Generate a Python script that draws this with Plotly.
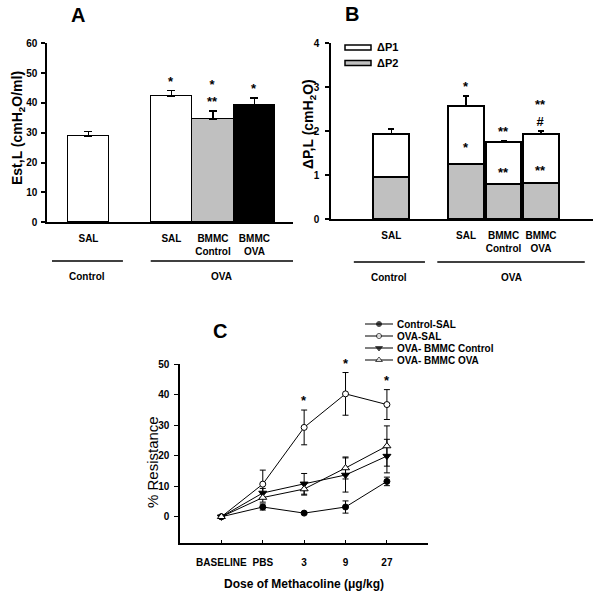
import plotly.graph_objects as go

W, H = 600, 595
FONT = "Liberation Sans, Arial, sans-serif"

# ---------------- Panel A data ----------------
a_x = [1, 3, 4, 5]
a_ticktext = ["SAL", "SAL", "BMMC<br>Control", "BMMC<br>OVA"]
a_est = [28.7, 42.4, 34.5, 39.3]
a_err = [1.7, 1.7, 2.8, 2.3]
a_fill = ["white", "white", "#c0c0c0", "black"]
a_sig = ["", "*", "*<br>**", "*"]
a_groups = ["Control", "OVA"]
a_group_span = [(0.12, 1.83), (2.5, 5.93)]

# ---------------- Panel B data ----------------
b_x = [1, 3, 4, 5]
b_ticktext = ["SAL", "SAL", "BMMC<br>Control", "BMMC<br>OVA"]
b_dp2 = [0.94, 1.25, 0.80, 0.82]
b_dp2_err = [0.12, 0.17, 0.035, 0.07]
b_dp1 = [0.99, 1.31, 0.94, 1.11]
b_dp1_err = [0.12, 0.24, 0.04, 0.07]
b_sig_dp1 = ["", "*", "**", "**<br>#"]
b_sig_dp2 = ["", "*", "**", "**"]
b_groups = ["Control", "OVA"]
b_group_span = [(0.0, 1.9), (2.23, 6.17)]
b_legend = ["\u0394P1", "\u0394P2"]
b_legend_fill = ["white", "#c0c0c0"]

# ---------------- Panel C data ----------------
c_doses = ["BASELINE", "PBS", "3", "9", "27"]
c_names = ["Control-SAL", "OVA-SAL", "OVA- BMMC Control", "OVA- BMMC OVA"]
c_ctrl_sal = [0, 3.2, 1.2, 3.2, 11.6]
c_ctrl_sal_err = [0, 1.0, 0.4, 2.0, 1.4]
c_ova_sal = [0, 10.7, 29.3, 40.3, 36.8]
c_ova_sal_err = [0, 4.6, 5.7, 7.0, 4.9]
c_ova_bmmc_ctrl = [0, 7.8, 10.8, 13.7, 19.9]
c_ova_bmmc_ctrl_err = [0, 1.5, 3.4, 5.6, 5.5]
c_ova_bmmc_ova = [0, 6.3, 9.1, 16.0, 23.2]
c_ova_bmmc_ova_err = [0, 1.5, 2.0, 3.6, 6.6]
c_sig = ["", "", "*", "*", "*"]


def px(x):
    return x / W


def py(y):
    return 1 - y / H


fig = go.Figure()

# ---- Panel A bars
fig.add_trace(go.Bar(
    x=a_x, y=a_est, width=1,
    marker=dict(color=a_fill, line=dict(color="black", width=1.5)),
    error_y=dict(type="data", array=a_err, arrayminus=[0] * len(a_err), symmetric=False,
                 color="black", thickness=1.5, width=4),
    xaxis="x", yaxis="y", showlegend=False))

# ---- Panel B stacked bars
fig.add_trace(go.Bar(
    x=b_x, y=b_dp2, width=0.95, name=b_legend[1],
    marker=dict(color="#c0c0c0", line=dict(color="black", width=2)),
    error_y=dict(type="data", array=b_dp2_err, arrayminus=[0] * 4, symmetric=False,
                 color="black", thickness=1.5, width=3),
    xaxis="x2", yaxis="y2", showlegend=False))
fig.add_trace(go.Bar(
    x=b_x, y=b_dp1, width=0.95, name=b_legend[0],
    marker=dict(color="white", line=dict(color="black", width=2)),
    error_y=dict(type="data", array=b_dp1_err, arrayminus=[0] * 4, symmetric=False,
                 color="black", thickness=1.5, width=3),
    xaxis="x2", yaxis="y2", showlegend=False))

# ---- Panel C lines
c_vals = [c_ctrl_sal, c_ova_sal, c_ova_bmmc_ctrl, c_ova_bmmc_ova]
c_errs = [c_ctrl_sal_err, c_ova_sal_err, c_ova_bmmc_ctrl_err, c_ova_bmmc_ova_err]
c_sym = ["circle", "circle", "triangle-down", "triangle-up"]
c_mfill = ["black", "white", "black", "white"]
c_msize = [6, 6, 7, 7]
xi = list(range(len(c_doses)))
for vals, errs, sym, mf, ms in zip(c_vals, c_errs, c_sym, c_mfill, c_msize):
    fig.add_trace(go.Scatter(
        x=xi, y=vals, mode="lines+markers",
        line=dict(color="black", width=1),
        marker=dict(symbol=sym, color=mf, size=ms, line=dict(color="black", width=1)),
        error_y=dict(type="data", array=errs, color="black", thickness=1, width=3),
        xaxis="x3", yaxis="y3", showlegend=False))

# ---- Panel C custom legend (helper axes)
for i, (sym, mf, ms) in enumerate(zip(c_sym, c_mfill, c_msize)):
    fig.add_trace(go.Scatter(
        x=[0, 0.5, 1], y=[i, i, i], mode="lines+markers",
        line=dict(color="black", width=1),
        marker=dict(symbol=sym, color=mf, size=[0, ms - 1, 0], line=dict(color="black", width=1)),
        xaxis="x4", yaxis="y4", showlegend=False, hoverinfo="skip"))

ann = []
shapes = []
tfont = dict(family=FONT, size=10, color="black", weight="bold")


def pann(text, x, y, **kw):
    d = dict(text=text, x=px(x), y=py(y), xref="paper", yref="paper", showarrow=False,
             xanchor="center", yanchor="middle")
    d.update(kw)
    ann.append(d)


# panel letters
lfont = dict(family=FONT, size=20, color="black", weight="bold")
pann("A", 78, 15, font=lfont)
pann("B", 352, 14, font=lfont)
pann("C", 220, 331, font=lfont)

# axis titles
pann("Est,L (cmH<sub>2</sub>O/ml)", 18, 128, textangle=-90,
     font=dict(family=FONT, size=14, color="black", weight="bold"))
pann("\u0394P,L (cmH<sub>2</sub>O)", 309, 124, textangle=-90,
     font=dict(family=FONT, size=14, color="black", weight="bold"))
pann("% Resistance", 152, 462, textangle=-90, font=dict(family=FONT, size=15, color="black"))
pann("Dose of Methacoline (\u03bcg/kg)", 304, 584,
     font=dict(family=FONT, size=12, color="black", weight="bold"))

sfont = dict(family=FONT, size=13, color="black", weight="bold")
# A significance
for x, v, e, s in zip(a_x, a_est, a_err, a_sig):
    if s:
        ann.append(dict(text=s, x=x, y=v + e, xref="x", yref="y", xanchor="center", yanchor="bottom",
                        showarrow=False, font=sfont))
# B significance
for x, v2, e2, v1, e1, s1, s2 in zip(b_x, b_dp2, b_dp2_err, b_dp1, b_dp1_err, b_sig_dp1, b_sig_dp2):
    if s1:
        ann.append(dict(text=s1, x=x, y=v2 + v1 + e1, xref="x2", yref="y2", xanchor="center",
                        yanchor="bottom", showarrow=False, font=sfont))
    if s2:
        ann.append(dict(text=s2, x=x, y=v2 + e2, xref="x2", yref="y2", xanchor="center",
                        yanchor="bottom", showarrow=False, font=sfont))
# C significance
for i, s in enumerate(c_sig):
    if s:
        top = max(v[i] + e[i] for v, e in zip(c_vals, c_errs))
        ann.append(dict(text=s, x=i, y=top, xref="x3", yref="y3", xanchor="center", yanchor="bottom",
                        showarrow=False, font=sfont))

# group lines A
for name, (x0, x1) in zip(a_groups, a_group_span):
    shapes.append(dict(type="line", xref="x", yref="paper", x0=x0, x1=x1, y0=py(261), y1=py(261),
                       line=dict(color="black", width=1.5)))
    ann.append(dict(text=name, x=(x0 + x1) / 2, y=py(276), xref="x", yref="paper", showarrow=False,
                    xanchor="center", yanchor="middle", font=tfont))
# group lines B
for name, (x0, x1) in zip(b_groups, b_group_span):
    shapes.append(dict(type="line", xref="x2", yref="paper", x0=x0, x1=x1, y0=py(262), y1=py(262),
                       line=dict(color="black", width=1.5)))
    ann.append(dict(text=name, x=(x0 + x1) / 2, y=py(277), xref="x2", yref="paper", showarrow=False,
                    xanchor="center", yanchor="middle", font=tfont))

# B legend
for i, (name, fill) in enumerate(zip(b_legend, b_legend_fill)):
    yc = 47.5 + i * 15.5
    shapes.append(dict(type="rect", xref="paper", yref="paper", x0=px(345), x1=px(371),
                       y0=py(yc + 2.5), y1=py(yc - 2.5), fillcolor=fill,
                       line=dict(color="black", width=1.5)))
    pann(name, 375, yc, xanchor="left", font=dict(family=FONT, size=11, color="black", weight="bold"))

# C legend text
for i, name in enumerate(c_names):
    ann.append(dict(text=name, x=1, y=i, xref="x4", yref="y4", xanchor="left", yanchor="middle",
                    xshift=2, showarrow=False, font=tfont))

axis_common = dict(showline=True, linecolor="black", linewidth=1.5, showgrid=False, zeroline=False,
                   tickfont=tfont, tickcolor="black", automargin=False)

fig.update_layout(
    width=W, height=H, margin=dict(l=0, r=0, t=0, b=0, pad=0, autoexpand=False),
    paper_bgcolor="white", plot_bgcolor="white", showlegend=False,
    barmode="stack", bargap=0,
    font=dict(family=FONT, color="black"),
    xaxis=dict(domain=[px(47), px(293)], range=[0, 5.93], anchor="y", tickvals=a_x, ticktext=a_ticktext,
               ticks="", ticklabelstandoff=6, **axis_common),
    yaxis=dict(domain=[py(222.3), py(43.3)], range=[0, 60], anchor="x", tickvals=[0, 10, 20, 30, 40, 50, 60],
               ticks="outside", ticklen=4, tickwidth=1.5, ticklabelstandoff=2, **axis_common),
    xaxis2=dict(domain=[px(331), px(593)], range=[-0.61, 6.39], anchor="y2", tickvals=b_x,
                ticktext=b_ticktext, ticks="", ticklabelstandoff=6, **axis_common),
    yaxis2=dict(domain=[py(219), py(43.3)], range=[0, 4], anchor="x2", tickvals=[0, 1, 2, 3, 4],
                ticks="outside", ticklen=4, tickwidth=1.5, ticklabelstandoff=4, **axis_common),
    xaxis3=dict(domain=[px(180), px(428.3)], range=[-1, 5], anchor="y3",
                tickvals=xi, ticktext=c_doses,
                ticks="inside", ticklen=4, tickwidth=1, ticklabelstandoff=9,
                minor=dict(ticks="inside", tick0=-1, dtick=1, ticklen=4, tickwidth=1, tickcolor="black"),
                **axis_common),
    yaxis3=dict(domain=[py(543.3), py(364.3)], range=[-8.7, 50], anchor="x3",
                tickvals=[0, 10, 20, 30, 40, 50], ticks="outside", ticklen=4, tickwidth=1,
                ticklabelstandoff=3, **axis_common),
    xaxis4=dict(domain=[px(365), px(393)], range=[0, 1], anchor="y4", visible=False),
    yaxis4=dict(domain=[py(366), py(318)], range=[3.5, -0.5], anchor="x4", visible=False),
    annotations=ann, shapes=shapes,
)

fig.write_html("out.html", config={"displayModeBar": False},
               post_script="document.body.style.margin='0px';")
